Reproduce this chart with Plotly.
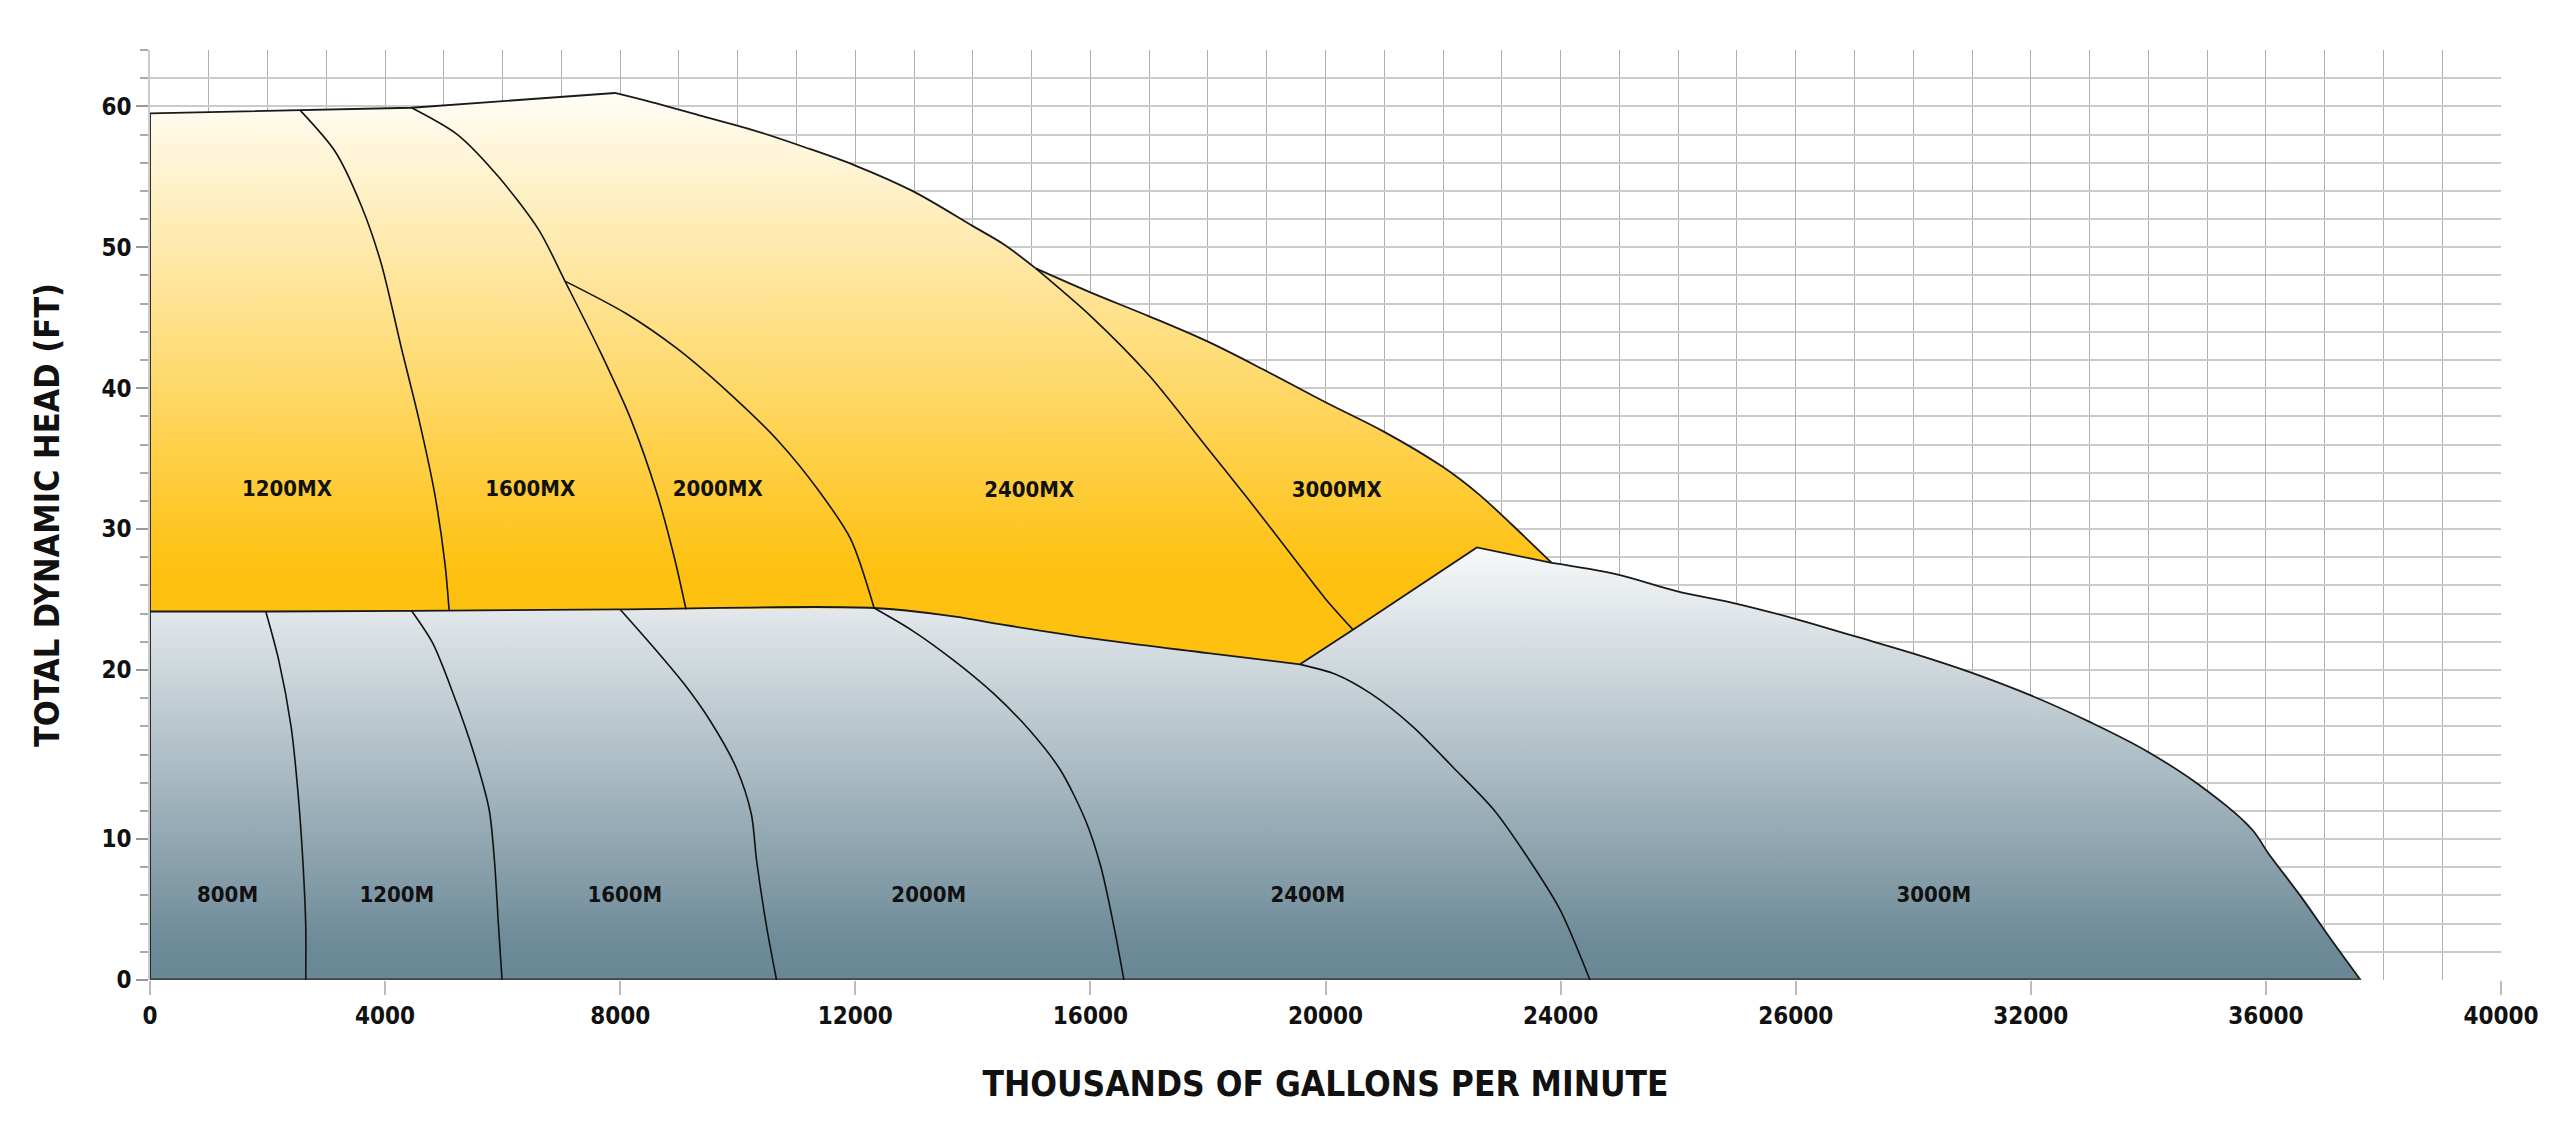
import plotly.graph_objects as go

# x axis: evenly spaced ticks, printed labels as on the original sheet
x_tick_pos = [0, 4000, 8000, 12000, 16000, 20000, 24000, 28000, 32000, 36000, 40000]
x_tick_text = ["0", "4000", "8000", "12000", "16000", "20000", "24000", "26000", "32000", "36000", "40000"]

# y axis: the 10-20 step on the sheet is one grid cell wider than the rest
y_tick_pos = [0, 10, 22, 32, 42, 52, 62]
y_tick_text = ["0", "10", "20", "30", "40", "50", "60"]

# upper (MX) envelope, clockwise from the left edge
mx_x = [0, 2560, 4450, 7910, 8530, 9400, 10270, 11140, 12000, 12970, 14000, 14530, 15070,
        16000, 17000, 18000, 19000, 20000, 21000, 22000, 22600, 23200, 23850,
        22575, 20480, 19566, 18000, 16270, 14530, 13670, 12320, 8000, 4450, 1970, 0]
mx_y = [61.5, 61.7, 61.9, 62.95, 62.3, 61.3, 60.3, 59.1, 57.8, 56.0, 53.5, 52.2, 50.5,
        48.8, 47.1, 45.3, 43.2, 41.0, 38.9, 36.4, 34.5, 32.2, 29.6,
        30.7, 24.9, 22.4, 23.2, 24.1, 25.2, 25.8, 26.4, 26.3, 26.2, 26.15, 26.15]

# lower (M) envelope
m_x = [0, 0, 1970, 4450, 8000, 12320, 13670, 14530, 16270, 18000, 19566, 20480, 22575, 23850,
       24940, 25970, 27000, 28020, 29000, 29980, 31000, 32000, 33010, 33990, 35010, 35760,
       36040, 36600, 37070, 37610]
m_y = [0, 26.15, 26.15, 26.2, 26.3, 26.4, 25.8, 25.2, 24.1, 23.2, 22.4, 24.9, 30.7, 29.6,
       28.8, 27.6, 26.7, 25.6, 24.4, 23.2, 21.8, 20.2, 18.3, 16.2, 13.4, 10.7,
       9.0, 5.9, 3.1, 0]

# boundaries between pump models
mx_dividers = {
    "1200MX": ([2560, 3150, 3590, 3930, 4280, 4580, 4840, 5020, 5090],
               [61.7, 58.8, 55.0, 50.9, 44.8, 39.7, 34.6, 29.5, 26.2]),
    "1600MX": ([4450, 5230, 5930, 6620, 7060, 7670, 8190, 8620, 8920, 9120],
               [61.9, 60.0, 57.0, 53.2, 49.6, 44.5, 39.7, 34.6, 30.0, 26.3]),
    "2000MX": ([7060, 8100, 8970, 9840, 10700, 11400, 11920, 12320],
               [49.6, 47.3, 44.8, 41.7, 38.2, 34.6, 31.3, 26.4]),
    "2400MX": ([15070, 16010, 17000, 18000, 18690, 19470, 19990, 20460],
               [50.5, 47.1, 42.9, 37.7, 34.1, 29.9, 27.1, 24.9]),
}
m_dividers = {
    "800M": ([1970, 2190, 2400, 2520, 2600, 2650, 2650],
             [26.15, 22.7, 18.0, 13.2, 8.5, 3.8, 0]),
    "1200M": ([4450, 4810, 5160, 5510, 5770, 5860, 5930, 5990],
              [26.2, 23.9, 20.3, 16.1, 12.1, 8.5, 3.8, 0]),
    "1600M": ([8000, 8570, 9090, 9530, 9970, 10230, 10320, 10490, 10660],
              [26.3, 23.6, 21.0, 18.4, 15.1, 11.8, 8.5, 3.8, 0]),
    "2000M": ([12320, 12970, 13670, 14360, 14970, 15490, 15920, 16180, 16400, 16570],
              [26.4, 24.8, 22.7, 20.3, 17.7, 14.9, 11.3, 8.0, 3.8, 0]),
    "2400M": ([19566, 20170, 20780, 21480, 22170, 22860, 23470, 23990, 24500],
              [22.4, 21.7, 20.3, 18.0, 15.1, 12.1, 8.5, 5.0, 0]),
}

# region labels
mx_names = ["1200MX", "1600MX", "2000MX", "2400MX", "3000MX"]
mx_label_x = [2330, 6470, 9660, 14960, 20190]
mx_label_y = [34.75, 34.75, 34.75, 34.7, 34.7]
m_names = ["800M", "1200M", "1600M", "2000M", "2400M", "3000M"]
m_label_x = [1320, 4200, 8080, 13250, 19700, 30350]
m_label_y = [5.9, 5.9, 5.9, 5.9, 5.9, 5.9]

# narrowest bold face available offline
FONT = "DejaVu Sans Condensed, Liberation Sans Narrow, sans-serif"
GRID = "#cbcbcb"


def add_line(fig, xs, ys, shape="linear", width=1.8, color="#1a1a1a", smoothing=1.0):
    fig.add_trace(go.Scatter(
        x=xs, y=ys, mode="lines",
        line=dict(color=color, width=width, shape=shape,
                  smoothing=smoothing if shape == "spline" else None),
        hoverinfo="skip", showlegend=False,
    ))


fig = go.Figure()

# filled envelopes with vertical gradients (outlines drawn separately)
fig.add_trace(go.Scatter(
    x=m_x, y=m_y, mode="lines", fill="toself", line=dict(width=0),
    fillgradient=dict(type="vertical", start=0, stop=31,
                      colorscale=[[0, "#6a8796"], [0.08, "#6d8a98"], [1, "#f9fafb"]]),
    hoverinfo="skip", showlegend=False,
))
fig.add_trace(go.Scatter(
    x=mx_x, y=mx_y, mode="lines", fill="toself", line=dict(width=0),
    fillgradient=dict(type="vertical", start=26, stop=63,
                      colorscale=[[0, "#fec10f"], [0.08, "#fec10f"], [1, "#fffdf7"]]),
    hoverinfo="skip", showlegend=False,
))

# envelope outlines: straight pieces stay straight, curved pieces are smoothed
add_line(fig, mx_x[0:4], mx_y[0:4])                            # flat top
add_line(fig, mx_x[3:13], mx_y[3:13], "spline")                # 2400MX top
add_line(fig, mx_x[12:23], mx_y[12:23], "spline")              # 3000MX top
add_line(fig, mx_x[22:26], mx_y[22:26])                        # 3000M notch
add_line(fig, mx_x[25:], mx_y[25:], "spline")                  # MX / M border
add_line(fig, [mx_x[-1], mx_x[0]], [mx_y[-1], mx_y[0]])        # MX left edge
add_line(fig, m_x[13:], m_y[13:], "spline")                    # 3000M top
add_line(fig, m_x[0:2], m_y[0:2])                              # M left edge
add_line(fig, [m_x[0], m_x[-1]], [m_y[0], m_y[-1]], width=3.5, color="#444444")  # base

for dx, dy in list(mx_dividers.values()) + list(m_dividers.values()):
    add_line(fig, dx, dy, "spline", width=1.6, color="#111111", smoothing=0.8)

fig.add_trace(go.Scatter(
    x=mx_label_x + m_label_x, y=mx_label_y + m_label_y, mode="text",
    text=mx_names + m_names, textposition="middle center",
    textfont=dict(family=FONT, size=22, color="#111111", weight="bold"),
    hoverinfo="skip", showlegend=False,
))

fig.update_layout(
    width=2560,
    height=1135,
    margin=dict(l=142, r=67, t=42, b=163),
    plot_bgcolor="white",
    paper_bgcolor="white",
    font=dict(family=FONT, color="#111111"),
    xaxis=dict(
        range=[0, 40000],
        tickvals=x_tick_pos,
        ticktext=x_tick_text,
        ticks="outside", ticklen=14, tickcolor="#bbbbbb", tickwidth=1.5,
        tickfont=dict(size=24, weight="bold"),
        showgrid=True, gridcolor="#b0b0b0", gridwidth=1,
        minor=dict(dtick=1000, tick0=0, showgrid=True, gridcolor="#b0b0b0", gridwidth=1),
        zeroline=False, showline=False,
        title=dict(text="THOUSANDS OF GALLONS PER MINUTE",
                   font=dict(size=35, weight="bold"), standoff=42),
    ),
    yaxis=dict(
        range=[0, 66],
        tickvals=y_tick_pos,
        ticktext=y_tick_text,
        ticks="outside", ticklen=12, tickcolor="#999999", tickwidth=1.5,
        tickfont=dict(size=24, weight="bold"),
        showgrid=True, gridcolor=GRID, gridwidth=2,
        minor=dict(dtick=2, tick0=0, ticks="outside", ticklen=8, tickcolor="#aaaaaa",
                   showgrid=True, gridcolor=GRID, gridwidth=2),
        zeroline=False, showline=True, linecolor=GRID, linewidth=1.5,
        title=dict(text="TOTAL DYNAMIC HEAD (FT)",
                   font=dict(size=34, weight="bold"), standoff=32),
    ),
)

fig.write_html("out.html")
